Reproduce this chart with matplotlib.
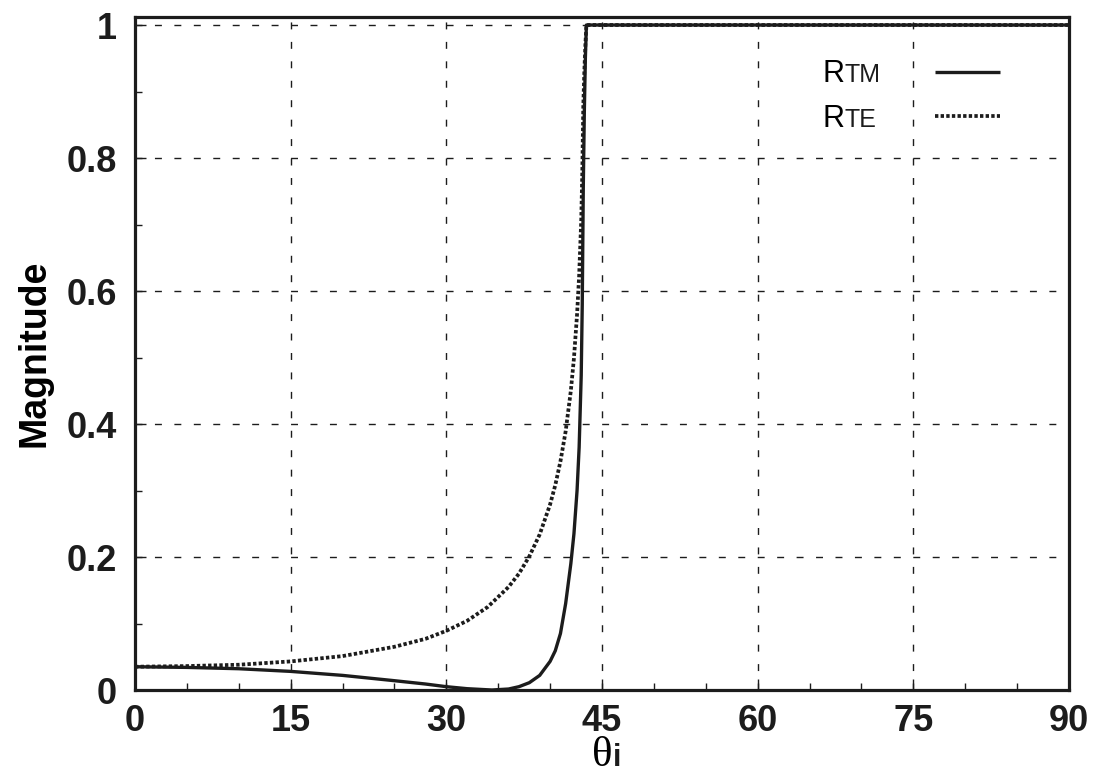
import matplotlib
matplotlib.use('Agg')
import matplotlib.pyplot as plt
from matplotlib.ticker import MultipleLocator

# values
theta_te = [0, 5, 10, 15, 20, 25, 28, 30, 32, 34, 36, 37, 38, 39, 40, 40.5, 41, 41.5,
            42, 42.3, 42.6, 42.8, 43.0, 43.1, 43.2, 43.3, 43.4, 43.5, 45, 60, 75, 90]
r_te = [0.035, 0.036, 0.038, 0.043, 0.051, 0.065, 0.077, 0.089, 0.104, 0.125, 0.155, 0.175,
        0.201, 0.234, 0.279, 0.308, 0.344, 0.389, 0.450, 0.499, 0.565, 0.623, 0.706, 0.775,
        0.878, 0.93, 0.97, 1.0, 1.0, 1.0, 1.0, 1.0]

theta_tm = [0, 5, 10, 15, 20, 25, 28, 30, 32, 34.4, 36, 37, 38, 39, 40, 40.5, 41, 41.5,
            42, 42.3, 42.6, 42.8, 43.0, 43.1, 43.2, 43.3, 43.4, 43.5, 45, 60, 75, 90]
r_tm = [0.035, 0.034, 0.032, 0.028, 0.022, 0.014, 0.009, 0.005, 0.002, 0.0, 0.0015, 0.005,
        0.011, 0.022, 0.043, 0.059, 0.085, 0.13, 0.19, 0.235, 0.30, 0.365, 0.473, 0.579,
        0.757, 0.87, 0.95, 1.0, 1.0, 1.0, 1.0, 1.0]

x_ticks = [0, 15, 30, 45, 60, 75, 90]
y_ticks = [0, 0.2, 0.4, 0.6, 0.8, 1]
y_tick_labels = ['0', '0.2', '0.4', '0.6', '0.8', '1']

plt.rcParams['font.family'] = ['Liberation Sans', 'DejaVu Sans']
ink = '#1c1c1c'

fig = plt.figure(figsize=(10.93, 7.78), dpi=100)
ax = fig.add_axes([0.1235, 0.1131, 0.8545, 0.865])

ax.plot(theta_tm, r_tm, color=ink, lw=2.4, solid_capstyle='butt', zorder=4, label='R')
ax.plot(theta_te, r_te, color=ink, lw=2.7, linestyle=(0, (0.9, 0.6)), zorder=3, label='R')

ax.set_xlim(0, 90)
ax.set_ylim(0, 1.012)
ax.set_xticks(x_ticks)
ax.set_yticks(y_ticks)
ax.set_yticklabels(y_tick_labels)
ax.xaxis.set_minor_locator(MultipleLocator(5))
ax.yaxis.set_minor_locator(MultipleLocator(0.1))

ax.tick_params(which='both', direction='in', colors=ink, top=False, right=False)
ax.tick_params(which='major', length=8, width=1.0, labelsize=26)
ax.tick_params(axis='y', which='major', pad=13)
ax.tick_params(axis='x', which='major', pad=10)
ax.tick_params(which='minor', length=5, width=1.0)
for lab in ax.get_xticklabels() + ax.get_yticklabels():
    lab.set_fontweight('bold')

for s in ax.spines.values():
    s.set_linewidth(2.3)
    s.set_color(ink)

ax.grid(True, which='major', color=ink, lw=1.0, linestyle=(0, (5, 9)), zorder=1)
ax.set_axisbelow(True)

ax.set_ylabel('Magnitude', fontsize=27, fontweight='bold', labelpad=10)
ax.set_xlabel('θ', family=['Liberation Serif', 'DejaVu Serif'], fontsize=31, labelpad=-2)

leg = ax.legend(loc='upper right', bbox_to_anchor=(0.926, 0.937), frameon=False,
                markerfirst=False, fontsize=22, handlelength=2.13, handletextpad=2.95,
                labelspacing=0.48, borderpad=0, borderaxespad=0)

# small-cap style suffixes sitting on the baseline of the big letter
fig.canvas.draw()
renderer = fig.canvas.get_renderer()


def add_suffix(txt, suffix, size, weight='normal', dx=0):
    bb = txt.get_window_extent(renderer)
    descent = renderer.get_text_width_height_descent('lp', txt.get_fontproperties(), False)[2]
    fig.text(bb.x1 + dx, bb.y0 + descent, suffix, transform=None, fontsize=size,
             fontweight=weight, va='baseline', ha='left', color=ink)


for txt, sub in zip(leg.get_texts(), ['TM', 'TE']):
    add_suffix(txt, sub, 18)
add_suffix(ax.xaxis.label, 'i', 22, weight='bold', dx=1)

fig.savefig('out.png', dpi=100, facecolor='white')
